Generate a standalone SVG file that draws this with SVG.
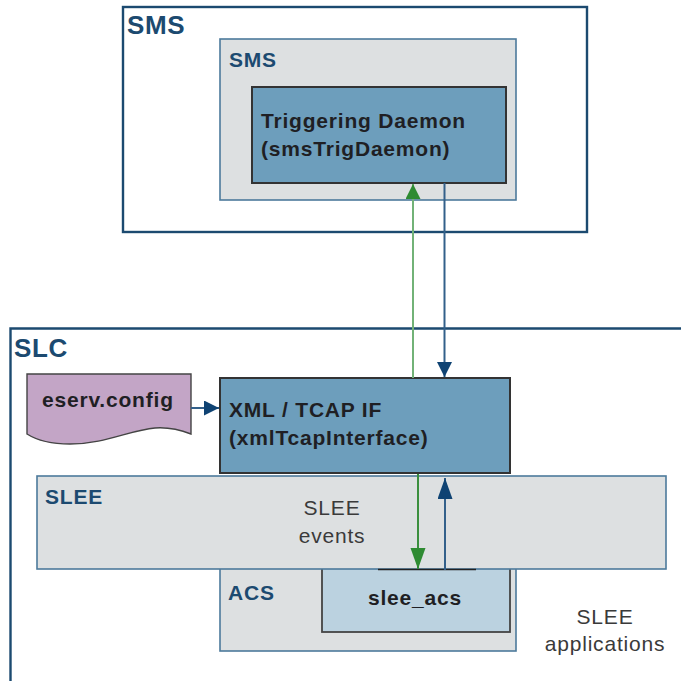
<svg xmlns="http://www.w3.org/2000/svg" width="681" height="681" viewBox="0 0 681 681">
<style>
text{font-family:"Liberation Sans",Arial,sans-serif}
.outer{fill:#fff;stroke:#1c4a70;stroke-width:2.4}
.pane{fill:#dde0e1;stroke:#4d7a9c;stroke-width:1.6}
.proc{fill:#6d9ebc;stroke:#333;stroke-width:2}
.title{fill:#1c4a70;font-weight:bold;font-size:26px;letter-spacing:.6px}
.sub{fill:#1c4a70;font-weight:bold;font-size:21px;letter-spacing:.8px}
.bold{fill:#1f1f24;font-weight:bold;font-size:21px;letter-spacing:.8px}
.plain{fill:#3a3a3a;font-size:21px;letter-spacing:.8px;text-anchor:middle}
.g{fill:none;stroke:#3a8f3e;stroke-width:2}
.gl{fill:none;stroke:#72b277;stroke-width:2}
.b{fill:none;stroke:#33608a;stroke-width:2}
</style>
<defs>
<marker id="ag" markerUnits="userSpaceOnUse" markerWidth="15" markerHeight="16" refX="15" refY="7.500" orient="auto"><path d="M0 0L15 7.500L0 15Z" fill="#2e8b32"/></marker>
<marker id="ab" markerUnits="userSpaceOnUse" markerWidth="15" markerHeight="16" refX="15" refY="7.500" orient="auto"><path d="M0 0L15 7.500L0 15Z" fill="#0f4373"/></marker>
<marker id="agl" markerUnits="userSpaceOnUse" markerWidth="21" markerHeight="16" refX="21" refY="7.500" orient="auto"><path d="M0 0L21 7.500L0 15Z" fill="#2e8b32"/></marker>
<marker id="abl" markerUnits="userSpaceOnUse" markerWidth="21" markerHeight="16" refX="21" refY="7.500" orient="auto"><path d="M0 0L21 7.500L0 15Z" fill="#0f4373"/></marker>
</defs>
<rect width="681" height="681" fill="#fff"/>
<g id="sms-outer"><rect class="outer" x="123" y="7" width="464" height="225"/><text class="title" x="127" y="34">SMS</text></g>
<g id="sms-inner"><rect class="pane" x="220" y="39" width="296" height="161"/><text class="sub" x="229" y="67">SMS</text></g>
<g id="trigger"><rect class="proc" x="252" y="87" width="254" height="96"/><text class="bold" x="261" y="128">Triggering Daemon</text><text class="bold" x="261" y="156">(smsTrigDaemon)</text></g>
<g id="slc"><path d="M681 328.500H10.500V681" fill="#fff" stroke="#1c4a70" stroke-width="2.400"/><text class="title" x="14" y="357">SLC</text></g>
<g id="eserv"><path d="M27 374H191V434C178 429 168 427 155 428C130 430 105 444 70 444C50 444 38 441 27 434Z" fill="#c3a5c6" stroke="#444" stroke-width="1.400"/><text class="bold" x="42" y="407">eserv.config</text></g>
<g id="acs"><rect class="pane" x="220" y="560" width="296" height="91"/><text class="sub" x="228" y="600">ACS</text></g>
<g id="slee-acs"><rect x="322" y="560" width="188" height="72" fill="#bbd2e0" stroke="#444" stroke-width="1.800"/><text class="bold" x="415" y="605" text-anchor="middle">slee_acs</text></g>
<g id="xml"><rect class="proc" x="220" y="378" width="290" height="95"/><text class="bold" x="229" y="417">XML / TCAP IF</text><text class="bold" x="229" y="445">(xmlTcapInterface)</text></g>
<g id="slee"><rect class="pane" x="37" y="476" width="629" height="93"/><text class="sub" x="45" y="504">SLEE</text><text class="plain" x="332" y="515">SLEE</text><text class="plain" x="332" y="543">events</text></g>
<path d="M378 569.500H476" stroke="#222" stroke-width="1.500"/>
<g id="slee-apps"><text class="plain" x="605" y="624">SLEE</text><text class="plain" x="605" y="651">applications</text></g>
<g id="connectors">
<path class="gl" d="M413 378V184" marker-end="url(#ag)"/>
<path class="b" d="M444.500 183V377" marker-end="url(#ab)"/>
<path class="b" d="M191 408H219" marker-end="url(#ab)"/>
<path class="g" d="M418 474V569" marker-end="url(#agl)"/>
<path class="b" d="M445 570V478" marker-end="url(#abl)"/>
</g>
</svg>
